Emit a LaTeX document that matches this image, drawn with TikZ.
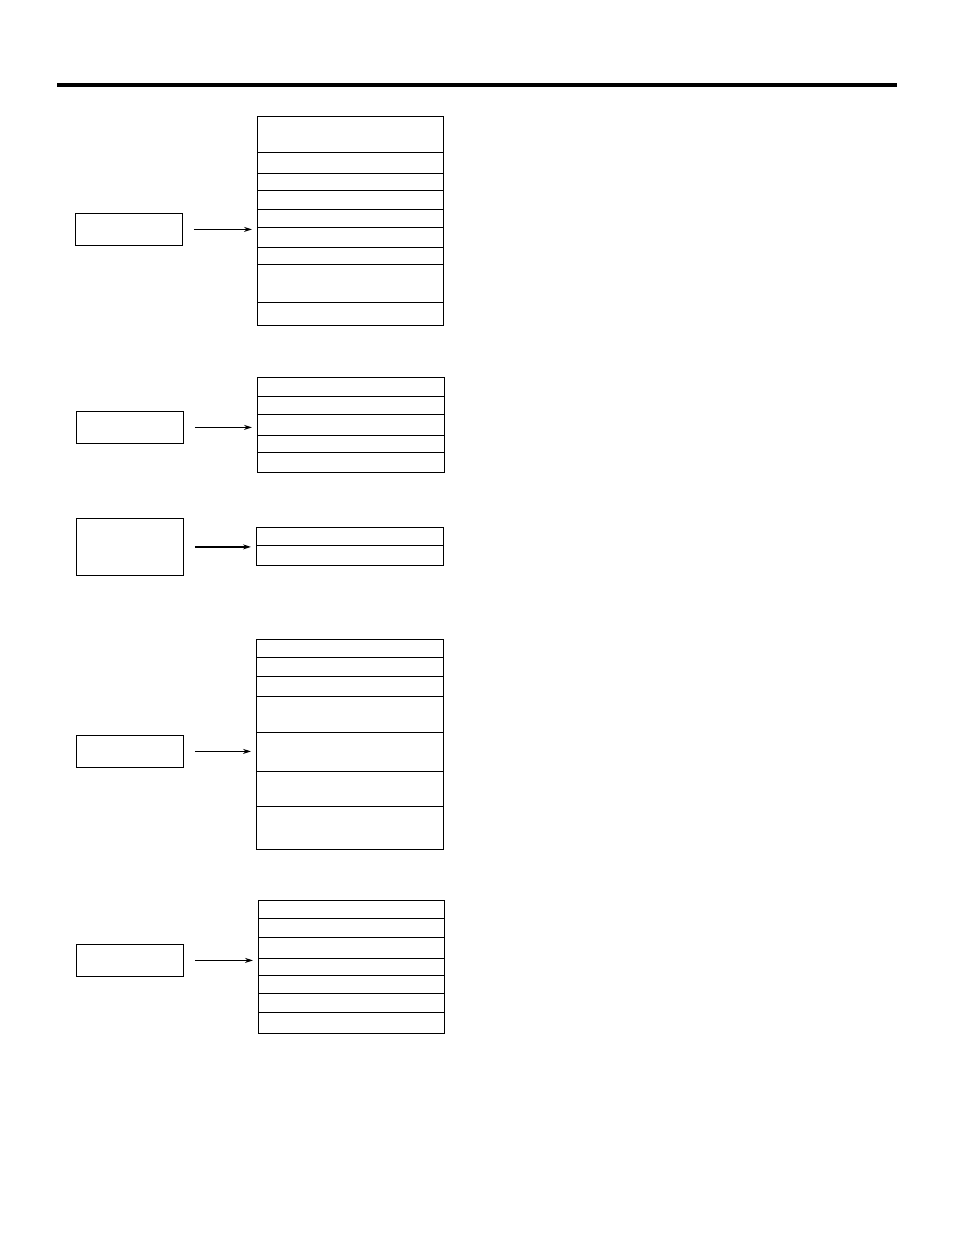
\documentclass[tikz,border=0pt]{standalone}
\usetikzlibrary{arrows.meta}
\tikzset{
  srcbox/.style={draw, line width=0.8pt, anchor=north west, inner sep=0pt, minimum width=107pt},
  listbox/.style={draw, line width=0.8pt, anchor=north west, inner sep=0pt},
  feed/.style={-{Stealth[length=8pt,width=5pt]}, shorten <=11pt, shorten >=5pt},
}
\begin{document}
\begin{tikzpicture}[x=1pt,y=-1pt]
\useasboundingbox (0,0) rectangle (954,1235);
% heading rule
\draw[line width=4pt] (57,85) -- (897,85);
% Group 1
\node[srcbox, minimum height=32pt] (src1) at (75,213) {};
\node[listbox, minimum width=186pt, minimum height=209pt] (list1) at (257,116) {};
\foreach \y in {152,173,190,209,227,247,264,302}
  \draw[line width=0.8pt] (257,\y) -- (443,\y);
\draw[feed, line width=1.6pt] (src1.east) -- (src1.east -| list1.west);
% Group 2
\node[srcbox, minimum height=32pt] (src2) at (76,411) {};
\node[listbox, minimum width=187pt, minimum height=95pt] (list2) at (257,377) {};
\foreach \y in {396,414,435,452}
  \draw[line width=0.8pt] (257,\y) -- (444,\y);
\draw[feed, line width=1.6pt] (src2.east) -- (src2.east -| list2.west);
% Group 3
\node[srcbox, minimum height=57pt] (src3) at (76,518) {};
\node[listbox, minimum width=187pt, minimum height=38pt] (list3) at (256,527) {};
\draw[line width=0.8pt] (256,545) -- (443,545);
\draw[feed, line width=1.6pt] (src3.east) -- (src3.east -| list3.west);
% Group 4
\node[srcbox, minimum height=32pt] (src4) at (76,735) {};
\node[listbox, minimum width=187pt, minimum height=210pt] (list4) at (256,639) {};
\foreach \y in {657,676,696,732,771,806}
  \draw[line width=0.8pt] (256,\y) -- (443,\y);
\draw[feed, line width=0.8pt] (src4.east) -- (src4.east -| list4.west);
% Group 5
\node[srcbox, minimum height=32pt] (src5) at (76,944) {};
\node[listbox, minimum width=186pt, minimum height=133pt] (list5) at (258,900) {};
\foreach \y in {918,937,958,975,993,1012}
  \draw[line width=0.8pt] (258,\y) -- (444,\y);
\draw[feed, line width=0.8pt] (src5.east) -- (src5.east -| list5.west);
\end{tikzpicture}
\end{document}
